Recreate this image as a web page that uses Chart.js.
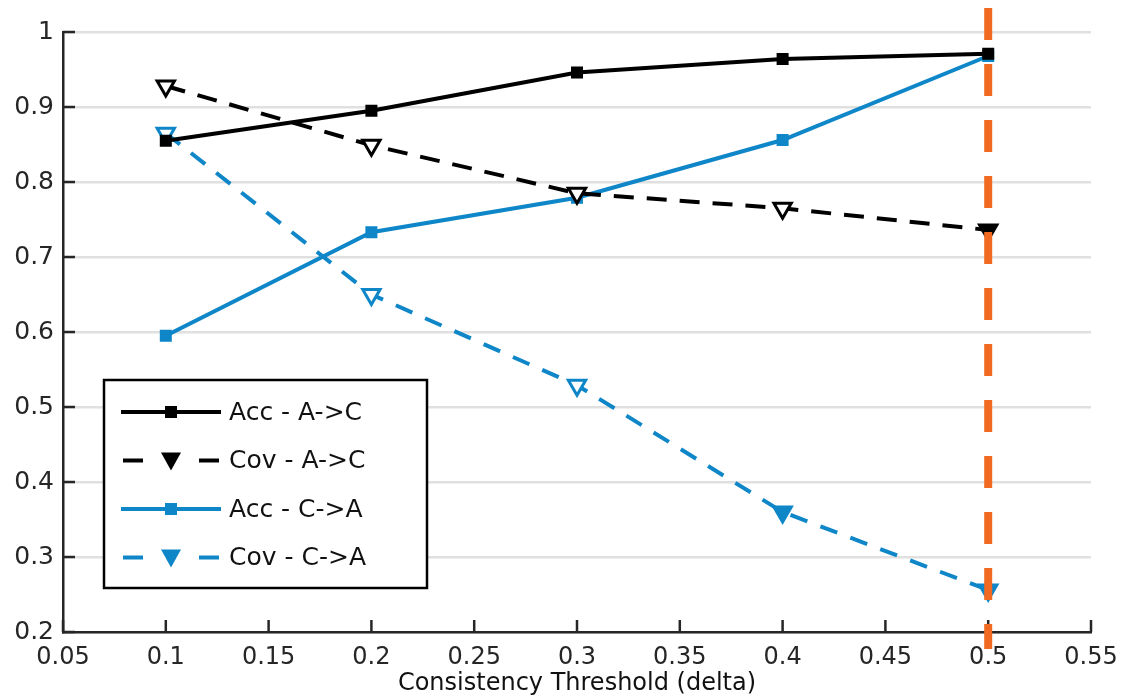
<!DOCTYPE html>
<html>
<head>
<meta charset="utf-8">
<script src="https://cdn.jsdelivr.net/npm/chart.js@4"></script>
<style>
  html, body { margin: 0; padding: 0; background: #fff; }
  #wrap { width: 1121px; height: 698px; }
</style>
</head>
<body>
<div id="wrap"><canvas id="chart" width="1121" height="698"></canvas></div>
<script>
const thresholds = [0.1, 0.2, 0.3, 0.4, 0.5];
const accAC = [0.855, 0.895, 0.946, 0.964, 0.971];
const covAC = [0.928, 0.849, 0.785, 0.765, 0.736];
const accCA = [0.595, 0.733, 0.779, 0.856, 0.968];
const covCA = [0.865, 0.650, 0.529, 0.360, 0.256];
const chosenDelta = 0.5;

const black = "#000000";
const blue = "#0E86C8";
const orange = "#F26A21";
const axisColor = "#262626";
const fontFamily = "'DejaVu Sans', sans-serif";

function pts(ys) {
  return thresholds.map((x, i) => ({ x: x, y: ys[i] }));
}

// inward tick marks, like the original figure
const innerTicks = {
  id: "innerTicks",
  beforeDatasetsDraw(chart) {
    const ctx = chart.ctx;
    const xs = chart.scales.x, ys = chart.scales.y;
    const a = chart.chartArea;
    ctx.save();
    ctx.strokeStyle = axisColor;
    ctx.lineWidth = 2.5;
    ys.ticks.forEach(t => {
      const y = ys.getPixelForValue(t.value);
      ctx.beginPath();
      ctx.moveTo(a.left, y);
      ctx.lineTo(a.left + 12, y);
      ctx.stroke();
    });
    xs.ticks.forEach(t => {
      const x = xs.getPixelForValue(t.value);
      ctx.beginPath();
      ctx.moveTo(x, a.bottom);
      ctx.lineTo(x, a.bottom - 12);
      ctx.stroke();
    });
    ctx.restore();
  }
};

// orange dashed marker line at the chosen threshold
const thresholdLine = {
  id: "thresholdLine",
  afterDatasetsDraw(chart) {
    const ctx = chart.ctx;
    const a = chart.chartArea;
    const x = chart.scales.x.getPixelForValue(chosenDelta);
    ctx.save();
    ctx.strokeStyle = orange;
    ctx.lineWidth = 8;
    ctx.setLineDash([32, 24]);
    ctx.beginPath();
    ctx.moveTo(x, a.top - 24);
    ctx.lineTo(x, a.bottom + 17);
    ctx.stroke();
    ctx.restore();
  }
};

// boxed legend in the lower left corner
const boxLegend = {
  id: "boxLegend",
  afterDraw(chart) {
    const ctx = chart.ctx;
    const a = chart.chartArea;
    const left = a.left + 41, top = a.bottom - 252;
    const w = 323, h = 208;
    ctx.save();
    ctx.fillStyle = "#fff";
    ctx.fillRect(left, top, w, h);
    ctx.strokeStyle = "#000";
    ctx.lineWidth = 2.5;
    ctx.strokeRect(left, top, w, h);
    ctx.font = "25px " + fontFamily;
    ctx.textBaseline = "middle";
    chart.data.datasets.forEach((ds, i) => {
      const y = top + 32 + i * 48.5;
      const x0 = left + 17, x1 = left + 117, xm = (x0 + x1) / 2;
      ctx.strokeStyle = ds.borderColor;
      ctx.lineWidth = ds.borderWidth;
      ctx.setLineDash([]);
      ctx.beginPath();
      if (ds.borderDash) {
        ctx.moveTo(x0 + 2, y); ctx.lineTo(x0 + 22, y);
        ctx.moveTo(x1 - 22, y); ctx.lineTo(x1 - 2, y);
      } else {
        ctx.moveTo(x0, y); ctx.lineTo(x1, y);
      }
      ctx.stroke();
      ctx.fillStyle = ds.borderColor;
      if (ds.pointStyle === "rect") {
        ctx.fillRect(xm - 6, y - 6, 12, 12);
      } else {
        ctx.beginPath();
        ctx.moveTo(xm - 10, y - 8);
        ctx.lineTo(xm + 10, y - 8);
        ctx.lineTo(xm, y + 10);
        ctx.closePath();
        ctx.fill();
      }
      ctx.fillStyle = "#111";
      ctx.fillText(ds.label, left + 125, y + 1);
    });
    ctx.restore();
  }
};

new Chart(document.getElementById("chart"), {
  type: "line",
  data: {
    datasets: [
      {
        label: "Acc - A->C",
        data: pts(accAC),
        borderColor: black,
        backgroundColor: black,
        borderWidth: 4,
        pointStyle: "rect",
        pointRadius: 8.5,
        pointBackgroundColor: black,
        pointBorderWidth: 0,
      },
      {
        label: "Cov - A->C",
        data: pts(covAC),
        borderColor: black,
        backgroundColor: black,
        borderWidth: 4,
        borderDash: [20, 13],
        pointStyle: "triangle",
        rotation: 180,
        pointRadius: 10,
        pointBackgroundColor: ["#fff", "#fff", "#fff", "#fff", black],
        pointBorderColor: black,
        pointBorderWidth: 3,
      },
      {
        label: "Acc - C->A",
        data: pts(accCA),
        borderColor: blue,
        backgroundColor: blue,
        borderWidth: 4,
        pointStyle: "rect",
        pointRadius: 8.5,
        pointBackgroundColor: blue,
        pointBorderWidth: 0,
      },
      {
        label: "Cov - C->A",
        data: pts(covCA),
        borderColor: blue,
        backgroundColor: blue,
        borderWidth: 4,
        borderDash: [18, 14],
        pointStyle: "triangle",
        rotation: 180,
        pointRadius: 10,
        pointBackgroundColor: ["#fff", "#fff", "#fff", blue, blue],
        pointBorderColor: blue,
        pointBorderWidth: 3,
      },
    ],
  },
  options: {
    responsive: false,
    animation: false,
    layout: { padding: { top: 32, right: 30, left: 0, bottom: 0 } },
    plugins: {
      legend: { display: false },
      tooltip: { enabled: false },
    },
    scales: {
      x: {
        type: "linear",
        min: 0.05,
        max: 0.55,
        afterFit: (s) => { s.height = 66; s.paddingLeft = 0; s.paddingRight = 0; },
        ticks: {
          stepSize: 0.05,
          color: axisColor,
          padding: 11,
          maxRotation: 0,
          font: { family: fontFamily, size: 24 },
          callback: (v) => Number(v.toFixed(2)).toString(),
        },
        grid: { display: false, drawTicks: false },
        border: { display: true, color: axisColor, width: 2.5 },
        title: {
          display: true,
          text: "Consistency Threshold (delta)",
          color: "#111",
          padding: { top: 0, bottom: 0 },
          font: { family: fontFamily, size: 24 },
        },
      },
      y: {
        type: "linear",
        min: 0.2,
        max: 1,
        afterFit: (s) => { s.width = 63; },
        ticks: {
          stepSize: 0.1,
          color: axisColor,
          padding: 9,
          font: { family: fontFamily, size: 25 },
          callback: (v) => Number(v.toFixed(1)).toString(),
        },
        grid: { color: "#e0e0e0", lineWidth: 2.5, drawTicks: false },
        border: { display: true, color: axisColor, width: 2.5 },
      },
    },
  },
  plugins: [innerTicks, thresholdLine, boxLegend],
});
</script>
</body>
</html>
